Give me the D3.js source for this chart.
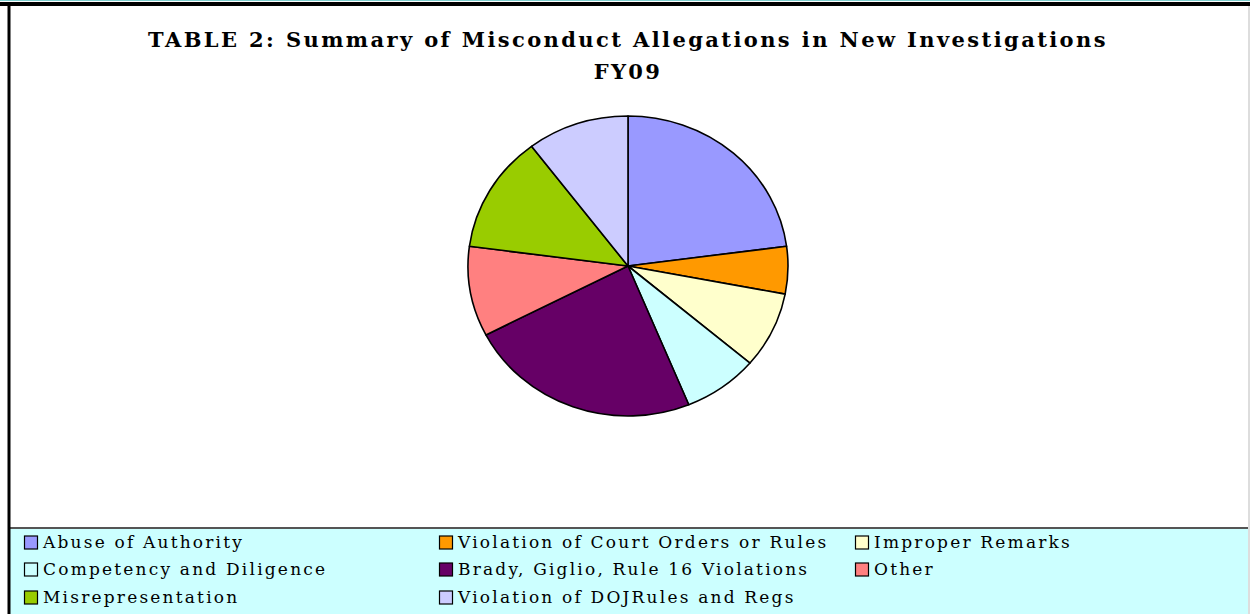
<!DOCTYPE html>
<html><head><meta charset="utf-8">
<script src="https://cdn.jsdelivr.net/npm/d3@7"></script>
<style>html,body{margin:0;padding:0;background:#fff;overflow:hidden}</style>
</head><body>
<script>
const categories = ["Abuse of Authority","Violation of Court Orders or Rules","Improper Remarks","Competency and Diligence","Brady, Giglio, Rule 16 Violations","Other","Misrepresentation","Violation of DOJRules and Regs"];
const values = [22.9, 5.1, 8.2, 7.6, 23.6, 9.7, 12.6, 10.3];
const colors = ["#9999FF","#FF9900","#FFFFCC","#CCFFFF","#660066","#FF8080","#99CC00","#CCCCFF"];
const titleLines = ["TABLE 2: Summary of Misconduct Allegations in New Investigations","FY09"];

const W = 1250, H = 614;
const svg = d3.select("body").append("svg").attr("width", W).attr("height", H);
svg.append("rect").attr("width", W).attr("height", H).attr("fill", "#fff");

// legend panel
const legTop = 528;
svg.append("rect").attr("x", 10).attr("y", legTop).attr("width", W - 11).attr("height", H - legTop).attr("fill", "#CCFFFF");
svg.append("line").attr("x1", 10).attr("x2", W - 1).attr("y1", legTop).attr("y2", legTop).attr("stroke", "#555").attr("stroke-width", 2);

// frame
svg.append("line").attr("x1", 0).attr("x2", W).attr("y1", 0.5).attr("y2", 0.5).attr("stroke", "#7fcfcf").attr("stroke-width", 1);
svg.append("line").attr("x1", 0).attr("x2", W).attr("y1", 4).attr("y2", 4).attr("stroke", "#000").attr("stroke-width", 4);
svg.append("line").attr("x1", 9).attr("x2", 9).attr("y1", 2).attr("y2", H).attr("stroke", "#000").attr("stroke-width", 3);
svg.append("line").attr("x1", W - 1).attr("x2", W - 1).attr("y1", 6).attr("y2", H).attr("stroke", "#ddd").attr("stroke-width", 2);

// title
svg.append("g").selectAll("text").data(titleLines).join("text")
  .attr("x", 628).attr("y", (d, i) => 47 + i * 32)
  .attr("text-anchor", "middle")
  .attr("font-family", "DejaVu Serif").attr("font-weight", "bold")
  .attr("font-size", 21).attr("letter-spacing", 2.4)
  .attr("fill", "#000").text(d => d);

// pie
const cx = 628, cy = 266, ry = 150, rx = 160;
const pie = d3.pie().sort(null).value(d => d)(values);
const arc = d3.arc().innerRadius(0).outerRadius(ry);
const g = svg.append("g").attr("transform", `translate(${cx},${cy}) scale(${rx / ry},1)`);
g.selectAll("path").data(pie).join("path")
  .attr("d", arc).attr("fill", (d, i) => colors[i])
  .attr("stroke", "#000").attr("stroke-width", 1.6)
  .attr("vector-effect", "non-scaling-stroke").attr("stroke-linejoin", "round");

// legend
const colX = [24, 439, 855], rowY = [542, 569, 597];
const items = categories.map((c, i) => ({ c, i, col: i % 3, row: Math.floor(i / 3) }));
const lg = svg.append("g").selectAll("g").data(items).join("g")
  .attr("transform", d => `translate(${colX[d.col]},${rowY[d.row]})`);
lg.append("rect").attr("x", 0.5).attr("y", -6).attr("width", 13).attr("height", 13)
  .attr("fill", d => colors[d.i]).attr("stroke", "#000").attr("stroke-width", 1.2);
lg.append("text").attr("x", 19).attr("y", 6)
  .attr("font-family", "DejaVu Serif").attr("font-size", 17).attr("letter-spacing", 2.2)
  .attr("fill", "#000").text(d => d.c);
</script>
</body></html>
